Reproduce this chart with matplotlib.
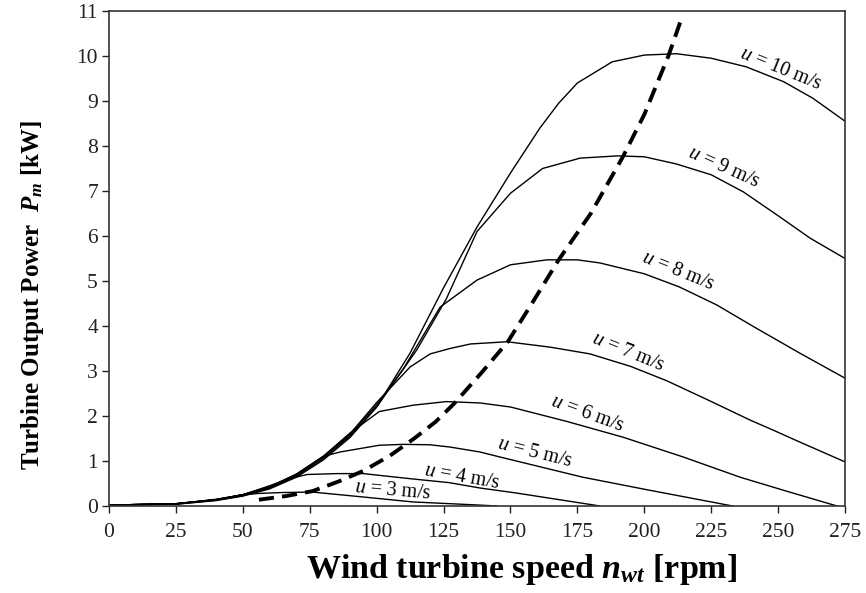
import matplotlib
matplotlib.use("Agg")
import matplotlib.pyplot as plt

plt.rcParams['font.family'] = ['Liberation Serif', 'DejaVu Serif']
plt.rcParams['mathtext.fontset'] = 'custom'
plt.rcParams['mathtext.rm'] = 'Liberation Serif'
plt.rcParams['mathtext.it'] = 'Liberation Serif:italic'
plt.rcParams['mathtext.bf'] = 'Liberation Serif:bold'
plt.rcParams['mathtext.bfit'] = 'Liberation Serif:bold:italic'

# power curves, one per wind speed (rpm, kW)
n_u3 = [0, 25, 40, 50, 56, 65, 76, 95, 113.6, 138.6, 145]
p_u3 = [0.02, 0.05, 0.15, 0.25, 0.28, 0.30, 0.31, 0.20, 0.09, 0.02, 0.0]

n_u4 = [0, 25, 40, 50, 60, 67, 74, 85, 95, 113.6, 127, 138.6, 152, 183.5]
p_u4 = [0.02, 0.05, 0.14, 0.25, 0.45, 0.6, 0.7, 0.72, 0.72, 0.6, 0.52, 0.4, 0.29, 0.0]

n_u5 = [0, 25, 40, 50, 60, 70, 80, 86.3, 101, 110, 120, 127.4, 138.6, 146, 177, 202, 233]
p_u5 = [0.02, 0.05, 0.14, 0.25, 0.43, 0.71, 1.1, 1.2, 1.35, 1.37, 1.36, 1.31, 1.2, 1.09, 0.64, 0.35, 0.0]

n_u6 = [0, 25, 40, 50, 60, 70, 80, 90, 101, 113.6, 126, 138.6, 150, 171, 192, 214.5, 235.8, 252, 272]
p_u6 = [0.02, 0.05, 0.14, 0.25, 0.42, 0.7, 1.1, 1.62, 2.1, 2.24, 2.32, 2.29, 2.2, 1.88, 1.53, 1.09, 0.64, 0.35, 0.0]

n_u7 = [0, 25, 40, 50, 60, 70, 80, 90, 100, 112.5, 120, 127.4, 135, 148.7, 164.8, 179.7, 195, 208.5, 224, 239.5, 248, 257, 275]
p_u7 = [0.02, 0.05, 0.14, 0.25, 0.42, 0.7, 1.1, 1.6, 2.3, 3.09, 3.38, 3.5, 3.6, 3.65, 3.53, 3.38, 3.1, 2.78, 2.35, 1.91, 1.69, 1.45, 0.98]

n_u8 = [0, 25, 40, 50, 60, 70, 80, 90, 100, 110, 123.7, 137.5, 150, 163.6, 175, 183.5, 200, 213, 227, 241, 258, 275]
p_u8 = [0.02, 0.05, 0.14, 0.25, 0.41, 0.69, 1.08, 1.58, 2.25, 3.05, 4.42, 5.02, 5.36, 5.47, 5.47, 5.4, 5.16, 4.87, 4.47, 3.98, 3.4, 2.84]

n_u9 = [0, 25, 40, 50, 60, 70, 80, 90, 100, 115, 126, 137.5, 150, 162, 176, 190, 200, 212, 225, 237, 250, 262, 275]
p_u9 = [0.02, 0.04, 0.13, 0.23, 0.4, 0.66, 1.05, 1.55, 2.2, 3.47, 4.6, 6.1, 6.95, 7.5, 7.73, 7.78, 7.76, 7.6, 7.36, 6.98, 6.45, 5.95, 5.5]

n_u10 = [0, 25, 40, 50, 60, 70, 80, 90, 100, 112.5, 125, 137.5, 150, 161, 168, 175, 188, 200, 212, 225, 238, 252, 263, 275]
p_u10 = [0.02, 0.04, 0.12, 0.22, 0.38, 0.64, 1.02, 1.52, 2.2, 3.4, 4.85, 6.2, 7.4, 8.4, 8.95, 9.4, 9.87, 10.02, 10.05, 9.95, 9.76, 9.43, 9.06, 8.55]

# maximum power point curve (dashed)
n_mpp = [56, 66, 76, 86, 95, 105, 114, 122, 129, 139, 149, 158, 168, 180, 192, 200, 209, 214]
p_mpp = [0.14, 0.22, 0.33, 0.55, 0.78, 1.12, 1.5, 1.87, 2.28, 2.95, 3.65, 4.5, 5.47, 6.5, 7.76, 8.7, 10.0, 10.85]

curves = [(n_u3, p_u3), (n_u4, p_u4), (n_u5, p_u5), (n_u6, p_u6),
          (n_u7, p_u7), (n_u8, p_u8), (n_u9, p_u9), (n_u10, p_u10)]

# curve labels: text, position, rotation
labels = ['3', '4', '5', '6', '7', '8', '9', '10']
label_x = [106, 132, 159, 178.6, 194, 212.6, 229.8, 251]
label_y = [0.33, 0.64, 1.18, 2.04, 3.42, 5.22, 7.51, 9.7]
label_rot = [-5, -10, -14, -20, -22, -22, -24, -22]

x_ticks = [0, 25, 50, 75, 100, 125, 150, 175, 200, 225, 250, 275]
y_ticks = list(range(0, 12))

fig = plt.figure(figsize=(8.66, 5.93), dpi=100)
ax = fig.add_axes([0.1259, 0.1467, 0.8499, 0.8348])

for n, p in curves:
    ax.plot(n, p, color='black', linewidth=1.0)

ax.plot(n_mpp, p_mpp, color='black', linewidth=2.8, dashes=(3.9, 2.1))

for lab, lx, ly, rot in zip(labels, label_x, label_y, label_rot):
    ax.text(lx, ly, '$u$ = ' + lab + ' m/s', fontsize=14.5, rotation=rot,
            ha='center', va='center', rotation_mode='anchor')

ax.set_xlim(0, 275)
ax.set_ylim(0, 11)
ax.set_xticks(x_ticks)
ax.set_yticks(y_ticks)
ax.tick_params(labelsize=15.5, direction='out', length=5, width=1.0, colors='#222222')
ax.tick_params(axis='x', pad=7)
ax.tick_params(axis='y', pad=3)
for side in ['left', 'bottom', 'top', 'right']:
    ax.spines[side].set_linewidth(1.2)
    ax.spines[side].set_color('#333333')

ax.set_xlabel(r'Wind turbine speed $\mathbfit{n}_{\mathbfit{wt}}$ [rpm]',
              fontsize=24.5, fontweight='bold')
ax.xaxis.set_label_coords(0.56, -0.092)
ax.set_ylabel(r'Turbine Output Power  $\mathbfit{P}_{\mathbfit{m}}$ [kW]',
              fontsize=18, fontweight='bold')
ax.yaxis.set_label_coords(-0.085, 0.426)

fig.savefig('out.png', dpi=100)
